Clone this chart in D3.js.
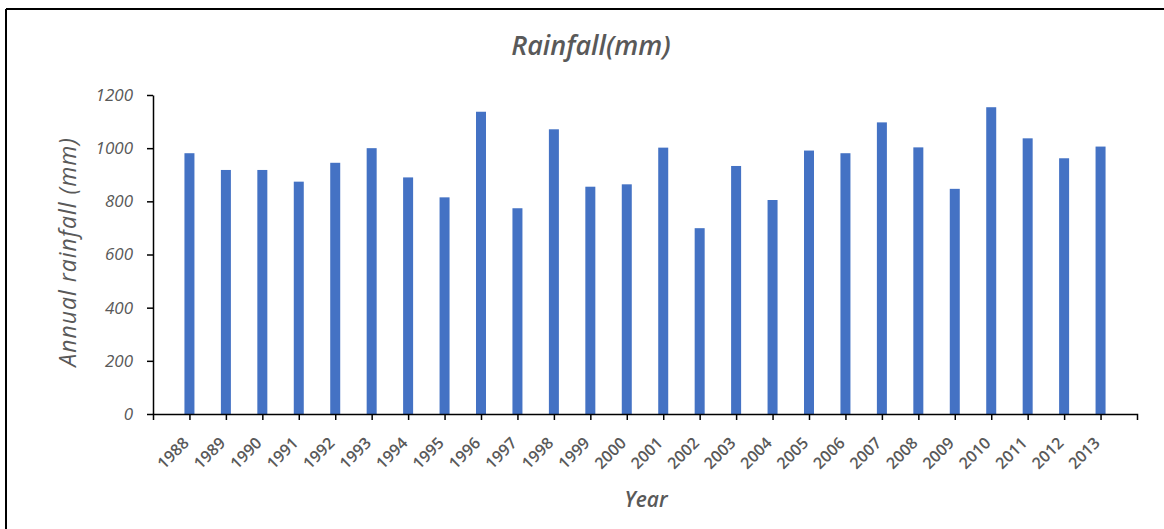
<!DOCTYPE html>
<html>
<head>
<meta charset="utf-8">
<script src="https://cdn.jsdelivr.net/npm/d3@7"></script>
<style>
  body { margin: 0; background: #fff; }
  text { font-family: "Open Sans", sans-serif; }
</style>
</head>
<body>
<div id="chart"></div>
<script>
const years = ["1988","1989","1990","1991","1992","1993","1994","1995","1996","1997",
  "1998","1999","2000","2001","2002","2003","2004","2005","2006","2007",
  "2008","2009","2010","2011","2012","2013"];
const rainfall = [981, 918, 918, 874, 945, 1000, 890, 815, 1137, 774,
  1071, 855, 864, 1002, 699, 933, 805, 991, 981, 1097,
  1003, 847, 1154, 1037, 962, 1006];
const yTicks = [0, 200, 400, 600, 800, 1000, 1200];

function drawChart() {
    const width = 1164;
    const height = 529;
    const left = 153, right = 1137, top = 95, bottom = 414;
    const textColor = "#595959";

    const svg = d3.select("#chart")
        .append("svg")
        .attr("width", width)
        .attr("height", height);

    // frame (top and left edges visible in the original)
    svg.append("line").attr("x1", 6).attr("x2", width).attr("y1", 9).attr("y2", 9)
        .attr("stroke", "#000").attr("stroke-width", 2);
    svg.append("line").attr("x1", 6).attr("x2", 6).attr("y1", 9).attr("y2", height)
        .attr("stroke", "#000").attr("stroke-width", 2);

    const x = d3.scalePoint()
        .domain(years)
        .range([left, right])
        .padding(1);

    const y = d3.scaleLinear()
        .domain([0, 1200])
        .range([bottom, top]);

    // bars
    svg.append("g")
        .selectAll("rect")
        .data(rainfall)
        .enter()
        .append("rect")
        .attr("x", (d, i) => x(years[i]) - 5)
        .attr("y", d => y(d))
        .attr("width", 10)
        .attr("height", d => y(0) - y(d))
        .attr("fill", "#4472c4");

    // y axis
    const yAxis = svg.append("g")
        .attr("transform", `translate(${left},0)`)
        .call(d3.axisLeft(y).tickValues(yTicks).tickFormat(d3.format("d"))
            .tickSize(6).tickSizeOuter(0).tickPadding(14));
    yAxis.select(".domain").attr("stroke", "#000").attr("stroke-width", 1.5);
    yAxis.selectAll(".tick line").attr("stroke", "#000").attr("stroke-width", 1.5);
    yAxis.selectAll(".tick text")
        .attr("fill", textColor)
        .style("font-size", "17px")
        .style("font-style", "italic")
        .style("font-weight", "500");

    // x axis
    const xAxis = svg.append("g")
        .attr("transform", `translate(0,${bottom})`)
        .call(d3.axisBottom(x).tickSize(6).tickSizeOuter(6));
    xAxis.select(".domain").attr("stroke", "#000").attr("stroke-width", 1.5);
    xAxis.selectAll(".tick line").attr("stroke", "#000").attr("stroke-width", 1.5);
    xAxis.selectAll(".tick text")
        .attr("fill", textColor)
        .style("font-size", "16px")
        .style("font-weight", "600")
        .attr("text-anchor", "end")
        .attr("y", 0)
        .attr("dy", 0)
        .attr("transform", "translate(0,30) rotate(-45)");

    // title
    svg.append("text")
        .attr("x", 591)
        .attr("y", 55)
        .attr("text-anchor", "middle")
        .attr("fill", textColor)
        .style("font-size", "27px")
        .style("font-style", "italic")
        .style("font-weight", "600")
        .text("Rainfall(mm)");

    // axis titles
    svg.append("text")
        .attr("transform", `translate(76,252) rotate(-90)`)
        .attr("text-anchor", "middle")
        .attr("fill", textColor)
        .style("font-size", "23px")
        .style("font-style", "italic")
        .style("letter-spacing", "1px")
        .text("Annual rainfall (mm)");

    svg.append("text")
        .attr("x", 646)
        .attr("y", 507)
        .attr("text-anchor", "middle")
        .attr("fill", textColor)
        .style("font-size", "21px")
        .style("font-style", "italic")
        .style("font-weight", "600")
        .text("Year");
}

drawChart();
</script>
</body>
</html>
